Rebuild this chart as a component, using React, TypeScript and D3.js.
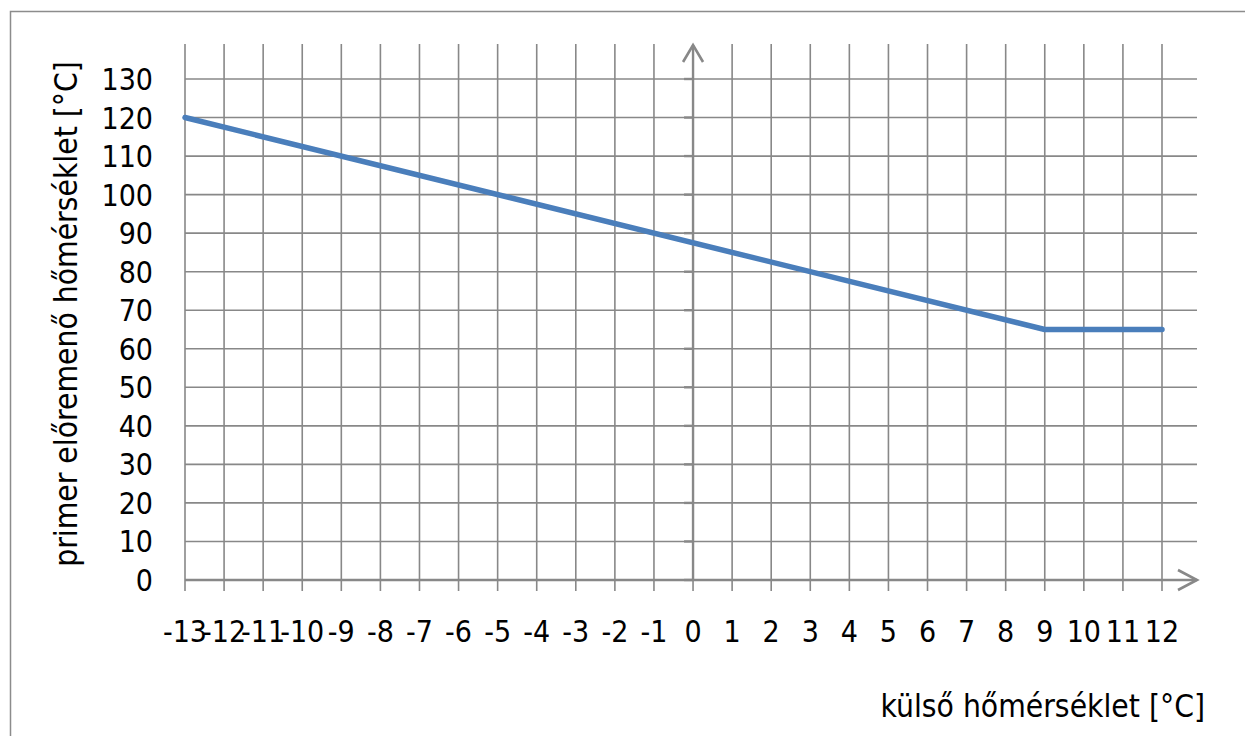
import React, { useEffect, useRef } from "react";
import * as d3 from "d3";

// outdoor temperature [°C] -> primary flow temperature [°C]
const outdoorTemps = [-13, 9, 12];
const flowTemps = [120, 65, 65];

const xTicks = d3.range(-13, 13); // -13 .. 12
const yTicks = d3.range(0, 140, 10); // 0 .. 130

const yTitle = "primer előremenő hőmérséklet [°C]";
const xTitle = "külső hőmérséklet [°C]";

const FONT = "Tahoma, 'DejaVu Sans Condensed', 'DejaVu Sans', sans-serif";
const GRID = "#888888";

const App = () => {
  const svgRef = useRef<SVGSVGElement | null>(null);

  useEffect(() => {
    const width = 1245;
    const height = 736;
    const plot = { left: 185, right: 1162, top: 79, bottom: 580 };
    const gridTop = 44;
    const gridRight = 1197;

    const svg = d3.select(svgRef.current).attr("width", width).attr("height", height);
    svg.selectAll("*").remove();

    const x = d3.scaleLinear().domain([-13, 12]).range([plot.left, plot.right]);
    const y = d3.scaleLinear().domain([0, 130]).range([plot.bottom, plot.top]);

    // outer frame (only left/top fall inside the picture)
    svg.append("rect")
      .attr("x", 10.5).attr("y", 11.5)
      .attr("width", 1300).attr("height", 800)
      .attr("fill", "none").attr("stroke", "#8c8c8c").attr("stroke-width", 1.5);

    // vertical gridlines
    svg.append("g")
      .selectAll("line")
      .data(xTicks)
      .enter()
      .append("line")
      .attr("x1", (d) => x(d)).attr("x2", (d) => x(d))
      .attr("y1", gridTop).attr("y2", plot.bottom + 11)
      .attr("stroke", GRID).attr("stroke-width", 1.6);

    // horizontal gridlines
    svg.append("g")
      .selectAll("line")
      .data(yTicks)
      .enter()
      .append("line")
      .attr("x1", plot.left).attr("x2", gridRight)
      .attr("y1", (d) => y(d)).attr("y2", (d) => y(d))
      .attr("stroke", GRID).attr("stroke-width", 1.6);

    // y axis at x = 0 with small ticks and an arrow head
    const yAxis = svg.append("g").attr("transform", `translate(${x(0)},0)`);
    yAxis.append("line")
      .attr("x1", 0).attr("x2", 0)
      .attr("y1", plot.bottom).attr("y2", gridTop + 1)
      .attr("stroke", GRID).attr("stroke-width", 2.4);
    yAxis.selectAll("line.tick")
      .data(yTicks)
      .enter()
      .append("line")
      .attr("class", "tick")
      .attr("x1", -9).attr("x2", 0)
      .attr("y1", (d) => y(d)).attr("y2", (d) => y(d))
      .attr("stroke", GRID).attr("stroke-width", 2.4);
    yAxis.append("path")
      .attr("d", `M-10,${gridTop + 18}L0,${gridTop + 1}L10,${gridTop + 18}`)
      .attr("fill", "none").attr("stroke", GRID).attr("stroke-width", 2.6);

    // x axis at y = 0 with an arrow head
    const xAxis = svg.append("g").attr("transform", `translate(0,${y(0)})`);
    xAxis.append("line")
      .attr("x1", plot.left).attr("x2", gridRight)
      .attr("y1", 0).attr("y2", 0)
      .attr("stroke", GRID).attr("stroke-width", 2.4);
    xAxis.append("path")
      .attr("d", `M${gridRight - 19},-10L${gridRight},0L${gridRight - 19},10`)
      .attr("fill", "none").attr("stroke", GRID).attr("stroke-width", 2.6);

    // tick labels
    svg.append("g")
      .selectAll("text")
      .data(yTicks)
      .enter()
      .append("text")
      .attr("x", 153)
      .attr("y", (d) => y(d) + 11)
      .attr("text-anchor", "end")
      .attr("font-family", FONT)
      .attr("font-stretch", "condensed")
      .attr("font-size", 30)
      .attr("fill", "#000")
      .text((d) => d);

    svg.append("g")
      .selectAll("text")
      .data(xTicks)
      .enter()
      .append("text")
      .attr("x", (d) => x(d))
      .attr("y", 642)
      .attr("text-anchor", "middle")
      .attr("font-family", FONT)
      .attr("font-stretch", "condensed")
      .attr("font-size", 30)
      .attr("fill", "#000")
      .text((d) => d);

    // axis titles
    svg.append("text")
      .attr("transform", "translate(77,314) rotate(-90)")
      .attr("text-anchor", "middle")
      .attr("font-family", FONT)
      .attr("font-stretch", "condensed")
      .attr("font-size", 31.5)
      .attr("fill", "#000")
      .text(yTitle);

    svg.append("text")
      .attr("x", 1205)
      .attr("y", 717)
      .attr("text-anchor", "end")
      .attr("font-family", FONT)
      .attr("font-stretch", "condensed")
      .attr("font-size", 31.5)
      .attr("fill", "#000")
      .text(xTitle);

    // the heating curve
    const pts = outdoorTemps.map((t, i) => [t, flowTemps[i]] as [number, number]);
    const line = d3.line<[number, number]>()
      .x((d) => x(d[0]))
      .y((d) => y(d[1]));

    svg.append("path")
      .datum(pts)
      .attr("d", line)
      .attr("fill", "none")
      .attr("stroke", "#4a7ebb")
      .attr("stroke-width", 5.5)
      .attr("stroke-linecap", "round")
      .attr("stroke-linejoin", "round");
  }, []);

  return (
    <svg
      ref={svgRef}
      style={{ position: "absolute", left: 0, top: 0, display: "block", background: "#fff" }}
    ></svg>
  );
};

export default App;
